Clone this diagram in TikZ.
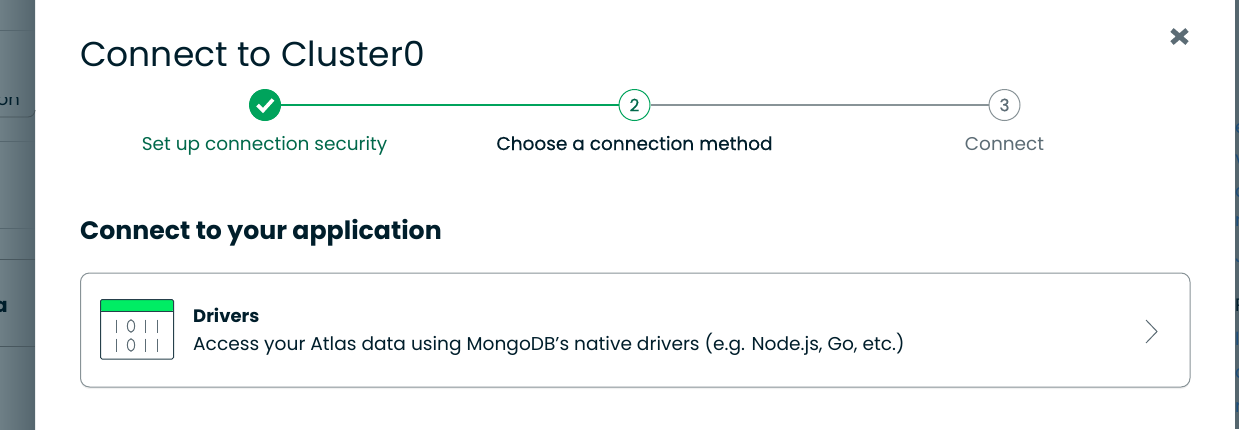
\documentclass[tikz,border=0pt]{standalone}
\usepackage{fontspec}
\setmainfont{Poppins}
\usetikzlibrary{shadows,calc}
\definecolor{ink}{HTML}{001E2B}
\definecolor{gr}{HTML}{00A35C}
\definecolor{dgr}{HTML}{00684A}
\definecolor{gy}{HTML}{889397}
\definecolor{mid}{HTML}{5C6C75}
\definecolor{back}{HTML}{6E7F86}
\definecolor{backd}{HTML}{55666E}
\definecolor{lnk}{HTML}{1F4E79}
\definecolor{brightgr}{HTML}{00ED64}
\newcommand{\medw}{\addfontfeature{FakeBold=0.5}}
\tikzset{x=1pt,y=-1pt,
 steplabel/.style={inner sep=0pt,font=\fontsize{18.5}{22}\selectfont},
 stepdot/.style={circle,draw,fill=white,minimum size=31pt,inner sep=0pt,line width=1pt,font=\fontsize{17}{20}\selectfont\medw}}
\begin{document}
\begin{tikzpicture}
\useasboundingbox (0,0) rectangle (1239,429);
% backdrop
\shade[left color=back,right color=backd] (0,0) rectangle (35,429);
\fill[backd] (1235,0) rectangle (1239,429);
\draw[backd,line width=.7pt] (0,30) -- (35,30) (0,141) -- (35,141) (0,228) -- (35,228);
\draw[backd!85!black,line width=.8pt] (0,346) -- (35,346) (0,259) -- (35,259);
\draw[backd!80!black,line width=.8pt] (0,117) -- (28,117) to[out=0,in=-90] (35,110);
\begin{scope}
\clip (0,97) rectangle (35,429);
\node[inner sep=0pt,anchor=base east,font=\fontsize{18}{20}\selectfont,text=ink] (frag1) at (20,105) {on};
\node[inner sep=0pt,anchor=base east,font=\fontsize{20}{20}\selectfont\bfseries,text=ink] (frag2) at (8,312) {a};
\end{scope}
\begin{scope}
\clip (1235,0) rectangle (1239,429);
\foreach \yy/\ch/\col in {133/e/lnk,167/V/lnk,197/c/lnk,226/r/lnk,262/J/lnk,311/R/ink,345/l/lnk,378/c/lnk,412/r/lnk}
  \node[inner sep=0pt,anchor=base west,font=\fontsize{18}{20}\selectfont,text=\col] at (1235,\yy) {\ch};
\end{scope}
% dialog
% title
\node[inner sep=0pt,anchor=base west,font=\fontsize{34.5}{38}\selectfont,text=ink] (title) at (80,66) {Connect to Cluster0};
% close
\draw[mid,line width=5pt] (1172,30) -- (1187,43) (1187,30) -- (1172,43);
% stepper
\node[stepdot,draw=gr,fill=gr] (s1) at (265,105) {};
\node[stepdot,draw=gr,text=dgr] (s2) at (634.5,105) {2};
\node[stepdot,draw=gy,text=mid] (s3) at (1004.5,105) {3};
\draw[gr,line width=2pt] (s1) -- (s2);
\draw[gy,line width=2pt] (s2) -- (s3);
\draw[white,line width=3.6pt] (257.5,105) -- (263,110.5) -- (273,99.5);
\node[steplabel,text=dgr,anchor=base] (l1) at (264.5,150) {Set up connection security};
\node[steplabel,text=ink,anchor=base] (l2) at (634.5,150) {\medw Choose a connection method};
\node[steplabel,text=mid,anchor=base] (l3) at (1004.5,150) {Connect};
% heading
\node[inner sep=0pt,anchor=base west,font=\fontsize{25.2}{28}\selectfont\bfseries,text=ink] (head) at (80,239) {Connect to your application};
% card
\node[draw=gy,fill=white,line width=1pt,rounded corners=9pt,minimum width=1109.5pt,minimum height=114pt,inner sep=0pt,anchor=north west,drop shadow={shadow xshift=0pt,shadow yshift=-2pt,opacity=.12}] (card) at (80,272.5) {};
% icon
\fill[white,rounded corners=1.5pt] (100.5,299.5) rectangle (173.5,359);
\fill[brightgr,rounded corners=1.5pt] (100.5,299.5) rectangle (173.5,311);
\draw[ink!85,line width=1pt] (100.5,311) -- (173.5,311);
\draw[ink!85,line width=1pt,rounded corners=1.5pt] (100.5,299.5) rectangle (173.5,359);
\foreach \yy in {326,345}{
 \draw[mid,line width=1pt] (116,\yy-6.5) -- (116,\yy+6.5) (145,\yy-6.5) -- (145,\yy+6.5) (157,\yy-6.5) -- (157,\yy+6.5);
 \draw[mid,line width=1pt] (131,\yy) ellipse (3.6 and 6.2);
}
% card text
\node[inner sep=0pt,anchor=base west,font=\fontsize{18}{20}\selectfont\bfseries,text=ink] (drv) at (193,322) {Drivers};
\node[inner sep=0pt,anchor=base west,font=\fontsize{18.6}{20}\selectfont,text=ink] (desc) at (193,350) {Access your Atlas data using MongoDB’s native drivers (e.g. Node.js, Go, etc.)};
% chevron
\draw[mid,line width=1pt] (1146,320) -- (1157,331.5) -- (1146,343);
\end{tikzpicture}
\end{document}
